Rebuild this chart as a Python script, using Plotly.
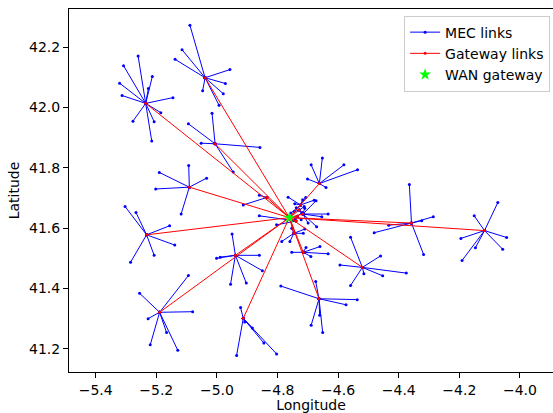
import plotly.graph_objects as go

# WAN gateway location
gateway_lon = -4.761
gateway_lat = 41.635

# MEC server (cluster centre) locations
center_lon = [-5.235, -5.039, -5.006, -5.091, -5.232, -4.939, -5.189, -4.913, -4.663, -4.520,
              -4.358, -4.117, -4.662, -4.835, -4.724, -4.716, -4.746, -4.715, -4.739,
              -4.728, -4.735]
center_lat = [42.014, 42.099, 41.880, 41.736, 41.578, 41.510, 41.321, 41.301, 41.366, 41.470,
              41.617, 41.592, 41.748, 41.702, 41.677, 41.647, 41.583, 41.520, 41.624,
              41.660, 41.640]

# Base stations (leaves) and the index of the MEC server each one is linked to
leaf_lon = [
    -5.260, -5.308, -5.321, -5.313, -5.226, -5.213, -5.145, -5.185, -5.207, -5.215, -5.277,
    -5.089, -5.115, -5.138, -4.957, -4.972, -4.979, -5.047, -4.993,
    -5.016, -5.094, -5.052, -4.858, -4.946,
    -5.093, -5.190, -5.034, -5.202, -5.118,
    -5.303, -5.267, -5.156, -5.139, -5.207, -5.285,
    -4.950, -5.001, -4.989, -4.860, -4.850, -4.955, -4.903,
    -5.094, -5.255, -5.080, -5.227, -5.166, -5.220, -5.129,
    -4.922, -4.935, -4.845, -4.803, -4.883, -4.908,
    -4.789, -4.674, -4.537, -4.574, -4.661, -4.689, -4.651,
    -4.559, -4.460, -4.594, -4.375, -4.453, -4.515, -4.559,
    -4.365, -4.286, -4.433, -4.481, -4.318, -4.324,
    -4.073, -4.151, -4.195, -4.044, -4.057, -4.147, -4.191,
    -4.652, -4.689, -4.581, -4.536, -4.701, -4.640,
    -4.913, -4.860,
    -4.765, -4.743, -4.717, -4.707, -4.679, -4.756,
    -4.633, -4.673, -4.654, -4.671, -4.699, -4.710,
    -4.786, -4.759, -4.715, -4.710, -4.753,
    -4.753, -4.633, -4.660, -4.706, -4.690,
    -4.860, -4.803,
    -4.712, -4.720, -4.738, -4.745,
    -4.722, -4.718, -4.742,
]
leaf_lat = [
    42.171, 42.139, 42.081, 42.040, 42.063, 42.103, 42.033, 41.983, 41.953, 41.889, 41.955,
    42.273, 42.192, 42.160, 42.126, 42.080, 42.046, 42.056, 42.008,
    41.981, 41.946, 41.882, 41.868, 41.786,
    41.808, 41.785, 41.766, 41.730, 41.647,
    41.672, 41.652, 41.608, 41.544, 41.510, 41.487,
    41.581, 41.500, 41.504, 41.510, 41.459, 41.414, 41.418,
    41.443, 41.384, 41.323, 41.300, 41.254, 41.213, 41.195,
    41.337, 41.178, 41.219, 41.183, 41.269, 41.289,
    41.408, 41.423, 41.363, 41.346, 41.311, 41.278, 41.254,
    41.570, 41.508, 41.478, 41.451, 41.442, 41.449, 41.410,
    41.745, 41.638, 41.610, 41.585, 41.513, 41.625,
    41.685, 41.641, 41.566, 41.569, 41.530, 41.535, 41.493,
    41.833, 41.810, 41.810, 41.794, 41.763, 41.735,
    41.677, 41.709,
    41.703, 41.681, 41.694, 41.702, 41.693, 41.650,
    41.647, 41.691, 41.638, 41.605, 41.617, 41.666,
    41.556, 41.556, 41.583, 41.597, 41.600,
    41.520, 41.515, 41.539, 41.536, 41.506,
    41.641, 41.611,
    41.672, 41.650, 41.668, 41.655,
    41.628, 41.652, 41.630,
]
leaf_cluster = (
    [0] * 11 + [1] * 8 + [2] * 5 + [3] * 5 + [4] * 6 + [5] * 7 + [6] * 7 + [7] * 6 +
    [8] * 7 + [9] * 7 + [10] * 6 + [11] * 7 + [12] * 6 + [13] * 2 + [14] * 6 +
    [15] * 6 + [16] * 5 + [17] * 5 + [18] * 2 + [19] * 4 + [20] * 3
)

x_ticks = [-5.4, -5.2, -5.0, -4.8, -4.6, -4.4, -4.2, -4.0]
y_ticks = [41.2, 41.4, 41.6, 41.8, 42.0, 42.2]

# Build segment lists
mec_x, mec_y = [], []
for lo, la, c in zip(leaf_lon, leaf_lat, leaf_cluster):
    mec_x += [center_lon[c], lo, None]
    mec_y += [center_lat[c], la, None]

gw_x, gw_y = [], []
for lo, la in zip(center_lon, center_lat):
    gw_x += [gateway_lon, lo, None]
    gw_y += [gateway_lat, la, None]

fig = go.Figure()
fig.add_trace(go.Scatter(
    x=mec_x, y=mec_y, mode="lines+markers", name="MEC links",
    line=dict(color="#0000ff", width=1), marker=dict(color="#0000ff", size=3),
))
fig.add_trace(go.Scatter(
    x=gw_x, y=gw_y, mode="lines+markers", name="Gateway links",
    line=dict(color="#ff0000", width=1), marker=dict(color="#ff0000", size=3),
))
fig.add_trace(go.Scatter(
    x=[gateway_lon], y=[gateway_lat], mode="markers", name="WAN gateway",
    marker=dict(color="#00ff00", size=9, symbol="star"),
))

axis_common = dict(
    showgrid=False, zeroline=False, showline=True, linecolor="black", linewidth=1,
    ticks="outside", ticklen=5, tickcolor="black", tickwidth=1,
    tickfont=dict(size=14, color="black"), automargin=False, tickformat=".1f",
)
fig.update_xaxes(range=[-5.488, -3.891], tickvals=x_ticks, mirror=True,
                 title=dict(text="Longitude", font=dict(size=14, color="black"), standoff=4),
                 **axis_common)
fig.update_yaxes(range=[41.123, 42.327], tickvals=y_ticks, mirror=False,
                 title=dict(text="Latitude", font=dict(size=14, color="black"), standoff=6),
                 **axis_common)

fig.update_layout(
    width=553, height=413,
    margin=dict(l=69, r=0, t=9, b=41),
    paper_bgcolor="white", plot_bgcolor="white",
    font=dict(family="DejaVu Sans", size=14, color="black"),
    legend=dict(x=0.994, y=0.982, xanchor="right", yanchor="top",
                bgcolor="rgba(255,255,255,0.8)", bordercolor="#cccccc", borderwidth=1,
                font=dict(size=14), tracegroupgap=0, itemwidth=30),
    showlegend=True,
)

fig.write_html("out.html")
